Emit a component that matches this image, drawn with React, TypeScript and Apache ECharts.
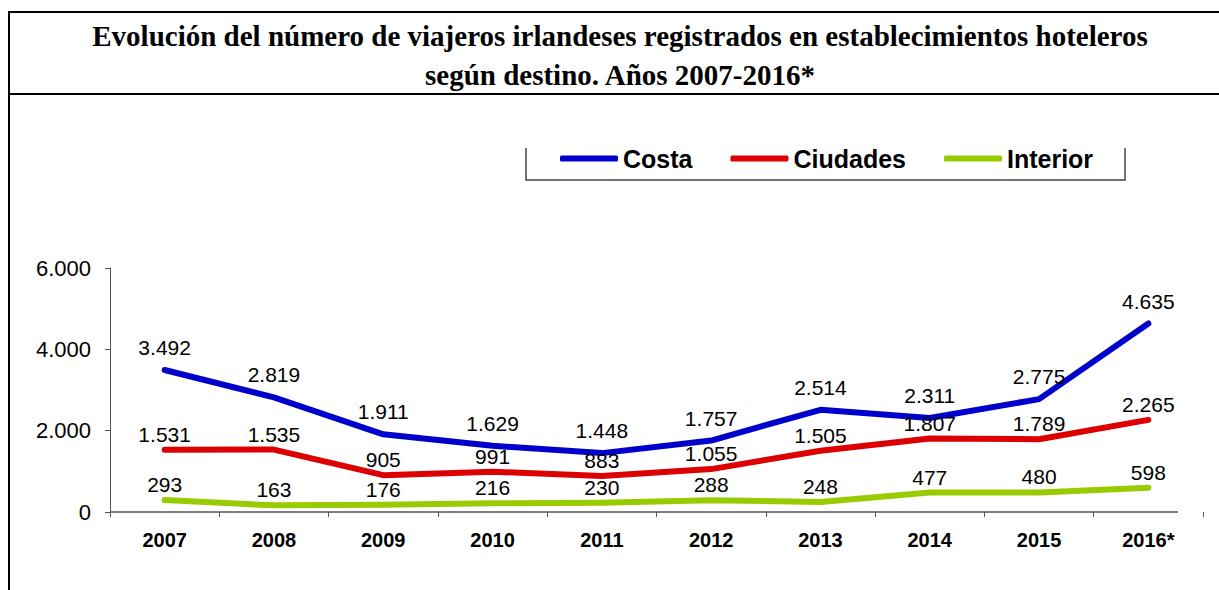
import React, { useEffect, useRef } from "react";
import * as echarts from "echarts";

const years = ["2007", "2008", "2009", "2010", "2011", "2012", "2013", "2014", "2015", "2016*"];
const costa = [3492, 2819, 1911, 1629, 1448, 1757, 2514, 2311, 2775, 4635];
const ciudades = [1531, 1535, 905, 991, 883, 1055, 1505, 1807, 1789, 2265];
const interior = [293, 163, 176, 216, 230, 288, 248, 477, 480, 598];
const seriesNames = ["Costa", "Ciudades", "Interior"];
const yMin = 0;
const yMax = 6000;
const yInterval = 2000;

const titleText =
  "Evolución del número de viajeros irlandeses registrados en establecimientos hoteleros\nsegún destino. Años 2007-2016*";

const fmt = (v: number) => String(Math.round(v)).replace(/\B(?=(\d{3})+(?!\d))/g, ".");

const W = 1219;
const H = 590;
const GRID_LEFT = 110;
const GRID_RIGHT = 16;
const GRID_TOP = 268;
const GRID_BOTTOM = 78;

export default function App() {
  const ref = useRef<HTMLDivElement>(null);
  useEffect(() => {
    if (!ref.current) return;
    const chart = echarts.init(ref.current, undefined, { renderer: "svg" });
    const mkSeries = (name: string, data: number[], color: string, dist: number) => ({
      name,
      type: "line",
      data,
      symbol: "circle",
      symbolSize: 2,
      showSymbol: true,
      smooth: false,
      color,
      itemStyle: { color },
      lineStyle: { width: 6, color, cap: "round", join: "round" },
      label: {
        show: true,
        position: "top",
        distance: dist,
        formatter: (p: any) => fmt(p.value),
        fontFamily: "Liberation Sans, Arial, sans-serif",
        fontSize: 21,
        color: "#000",
      },
      labelLayout: { hideOverlap: false },
      z: 3,
    });
    const axisY = H - GRID_BOTTOM;
    chart.setOption({
      animation: false,
      backgroundColor: "#fff",
      title: {
        text: titleText,
        left: 620,
        top: 16,
        padding: 0,
        textAlign: "center",
        textStyle: {
          fontFamily: "Liberation Serif, Times New Roman, serif",
          fontWeight: "bold",
          fontSize: 29,
          lineHeight: 39,
          color: "#000",
        },
      },
      legend: {
        data: seriesNames,
        left: 560,
        top: 146,
        padding: 0,
        itemWidth: 58,
        itemHeight: 6,
        itemGap: 38,
        icon: "roundRect",
        textStyle: {
          fontFamily: "Liberation Sans, Arial, sans-serif",
          fontWeight: "bold",
          fontSize: 25,
          color: "#000",
        },
      },
      grid: {
        left: GRID_LEFT,
        right: GRID_RIGHT,
        top: GRID_TOP,
        bottom: GRID_BOTTOM,
        containLabel: false,
        outerBoundsMode: "none",
      },
      xAxis: {
        type: "category",
        data: years,
        boundaryGap: true,
        axisLine: { show: false },
        axisTick: { show: true, length: 5, lineStyle: { color: "#555", width: 1 } },
        axisLabel: {
          margin: 18,
          fontFamily: "Liberation Sans, Arial, sans-serif",
          fontWeight: "bold",
          fontSize: 20,
          color: "#000",
        },
      },
      yAxis: {
        type: "value",
        min: yMin,
        max: yMax,
        interval: yInterval,
        axisLine: { show: true, lineStyle: { color: "#555", width: 1 } },
        axisTick: { show: true, length: 5, lineStyle: { color: "#555", width: 1 } },
        splitLine: { show: false },
        axisLabel: {
          margin: 19,
          formatter: (v: number) => fmt(v),
          fontFamily: "Liberation Sans, Arial, sans-serif",
          fontSize: 22,
          color: "#000",
        },
      },
      graphic: [
        { type: "line", shape: { x1: 9, y1: 12, x2: W, y2: 12 }, style: { stroke: "#000", lineWidth: 2 } },
        { type: "line", shape: { x1: 9, y1: 94, x2: W, y2: 94 }, style: { stroke: "#000", lineWidth: 2 } },
        { type: "line", shape: { x1: 9, y1: 11, x2: 9, y2: H }, style: { stroke: "#000", lineWidth: 2 } },
        {
          type: "polyline",
          shape: { points: [[526, 148], [526, 180], [1125, 180], [1125, 148]] },
          style: { stroke: "#444", lineWidth: 1.5, fill: "none" },
        },
        {
          type: "line",
          shape: { x1: GRID_LEFT, y1: axisY, x2: 1178, y2: axisY },
          style: { stroke: "#555", lineWidth: 1.5 },
          z: 2,
        },
      ],
      series: [
        mkSeries(seriesNames[0], costa, "#0000CC", 11),
        mkSeries(seriesNames[1], ciudades, "#DD0000", 4),
        mkSeries(seriesNames[2], interior, "#99CC00", 4),
      ],
    });
    return () => chart.dispose();
  }, []);
  return (
    <div
      ref={ref}
      style={{ position: "absolute", left: 0, top: 0, width: W, height: H, background: "#fff" }}
    />
  );
}
